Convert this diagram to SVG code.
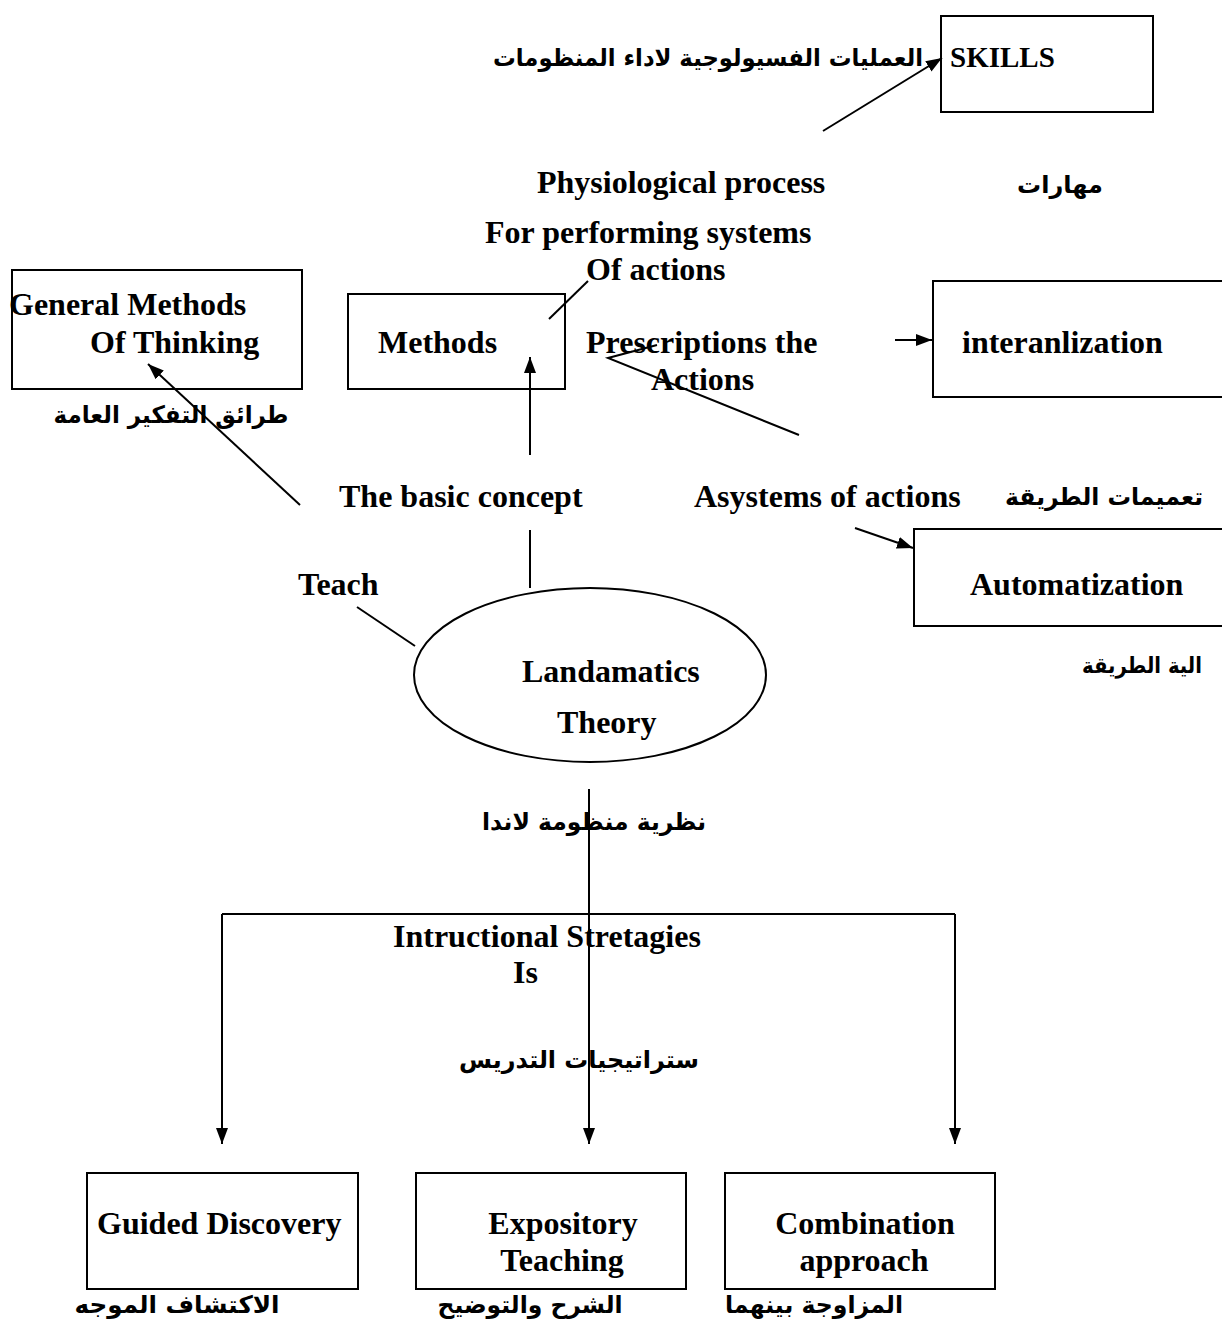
<svg xmlns="http://www.w3.org/2000/svg" width="1222" height="1333" viewBox="0 0 1222 1333">
<style>
.box{fill:none;stroke:#000;stroke-width:2}
.ln{stroke:#000;stroke-width:2;fill:none}
.ar{stroke:#000;stroke-width:2;fill:none;marker-end:url(#ah)}
.t{font-family:"Liberation Serif","Times New Roman",serif;font-weight:bold;font-size:32px;fill:#000}
.a{font-family:"DejaVu Sans",sans-serif;font-weight:bold;font-size:24px;fill:#000;direction:rtl;unicode-bidi:embed}
</style>
<defs>
<marker id="ah" markerUnits="userSpaceOnUse" markerWidth="18" markerHeight="14" refX="16" refY="6" orient="auto">
<path d="M0,0 L16,6 L0,12 z" fill="#000"/>
</marker>
</defs>
<rect width="1222" height="1333" fill="#fff"/>

<g id="skills">
<rect class="box" x="941" y="16" width="212" height="96"/>
<text class="t" x="950" y="67" style="font-size:29px">SKILLS</text>
</g>
<text class="a" x="708" y="66" text-anchor="middle" textLength="430" lengthAdjust="spacingAndGlyphs">العمليات الفسيولوجية لاداء المنظومات</text>
<text class="t" x="537" y="193">Physiological process</text>
<text class="a" x="1060" y="193" text-anchor="middle">مهارات</text>
<text class="t" x="485" y="243">For performing systems</text>
<text class="t" x="586" y="280">Of actions</text>

<g id="general-methods">
<rect class="box" x="12" y="270" width="290" height="119"/>
<text class="t" x="9" y="315">General Methods</text>
<text class="t" x="90" y="353">Of Thinking</text>
</g>
<text class="a" x="171" y="423" text-anchor="middle" textLength="235" lengthAdjust="spacingAndGlyphs">طرائق التفكير العامة</text>

<g id="methods">
<rect class="box" x="348" y="294" width="217" height="95"/>
<text class="t" x="378" y="353">Methods</text>
</g>

<text class="t" x="586" y="353">Prescriptions the</text>
<text class="t" x="651" y="390">Actions</text>

<g id="interanlization">
<rect class="box" x="933" y="281" width="300" height="116"/>
<text class="t" x="962" y="353">interanlization</text>
</g>

<text class="t" x="339" y="507">The basic concept</text>
<text class="t" x="694" y="507">Asystems of actions</text>
<text class="a" x="1104" y="505" text-anchor="middle" textLength="198" lengthAdjust="spacingAndGlyphs">تعميمات الطريقة</text>

<g id="automatization">
<rect class="box" x="914" y="529" width="310" height="97"/>
<text class="t" x="970" y="595">Automatization</text>
</g>
<text class="a" x="1142" y="673" text-anchor="middle" textLength="120" lengthAdjust="spacingAndGlyphs" style="font-size:22px">الية الطريقة</text>

<text class="t" x="298" y="595">Teach</text>

<g id="landamatics">
<ellipse class="box" cx="590" cy="675" rx="176" ry="87"/>
<text class="t" x="522" y="682">Landamatics</text>
<text class="t" x="557" y="733">Theory</text>
</g>

<text class="a" x="594" y="830" text-anchor="middle" textLength="224" lengthAdjust="spacingAndGlyphs">نظرية منظومة لاندا</text>
<text class="t" x="393" y="947">Intructional Stretagies</text>
<text class="t" x="513" y="983">Is</text>
<text class="a" x="579" y="1068" text-anchor="middle" textLength="240" lengthAdjust="spacingAndGlyphs">ستراتيجيات التدريس</text>

<g id="guided-discovery">
<rect class="box" x="87" y="1173" width="271" height="116"/>
<text class="t" x="97" y="1234">Guided Discovery</text>
</g>
<g id="expository-teaching">
<rect class="box" x="416" y="1173" width="270" height="116"/>
<text class="t" x="563" y="1234" text-anchor="middle">Expository</text>
<text class="t" x="562" y="1271" text-anchor="middle">Teaching</text>
</g>
<g id="combination-approach">
<rect class="box" x="725" y="1173" width="270" height="116"/>
<text class="t" x="865" y="1234" text-anchor="middle">Combination</text>
<text class="t" x="864" y="1271" text-anchor="middle">approach</text>
</g>
<text class="a" x="177" y="1313" text-anchor="middle" textLength="205" lengthAdjust="spacingAndGlyphs">الاكتشاف الموجه</text>
<text class="a" x="530" y="1313" text-anchor="middle" textLength="185" lengthAdjust="spacingAndGlyphs">الشرح والتوضيح</text>
<text class="a" x="814" y="1313" text-anchor="middle" textLength="178" lengthAdjust="spacingAndGlyphs">المزاوجة بينهما</text>

<g id="connectors">
<line class="ar" x1="823" y1="131" x2="942" y2="58"/>
<line class="ln" x1="549" y1="319" x2="588" y2="281"/>
<line class="ar" x1="530" y1="455" x2="530" y2="357"/>
<polyline class="ln" points="657,345 608,358 799,435"/>
<line class="ar" x1="895" y1="340" x2="932" y2="340"/>
<line class="ar" x1="300" y1="505" x2="148" y2="364"/>
<line class="ar" x1="855" y1="528" x2="913" y2="548"/>
<line class="ln" x1="530" y1="530" x2="530" y2="588"/>
<line class="ln" x1="357" y1="607" x2="415" y2="646"/>
<line class="ar" x1="589" y1="789" x2="589" y2="1144"/>
<line class="ln" x1="222" y1="914" x2="955" y2="914"/>
<line class="ar" x1="222" y1="914" x2="222" y2="1144"/>
<line class="ar" x1="955" y1="914" x2="955" y2="1144"/>
</g>
</svg>
